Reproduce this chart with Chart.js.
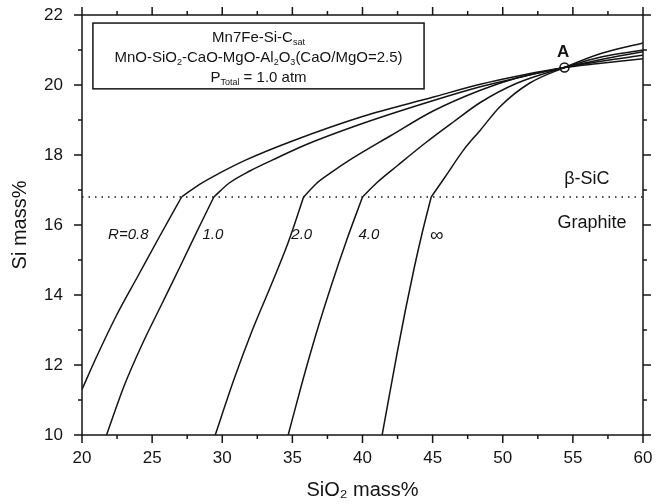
<!DOCTYPE html>
<html><head><meta charset="utf-8">
<script src="https://cdn.jsdelivr.net/npm/chart.js@4.4.1/dist/chart.umd.min.js"></script>
<style>html,body{margin:0;padding:0;background:#fff;}</style>
</head><body>
<canvas id="c" width="667" height="504"></canvas>
<script>
const FONT = "Arial, 'Liberation Sans', Helvetica, sans-serif";

// ---- data ----
const xTickValues = [20, 25, 30, 35, 40, 45, 50, 55, 60];
const yTickValues = [10, 12, 14, 16, 18, 20, 22];
const boundarySi = 16.8;            // beta-SiC / Graphite boundary
const pointA = { x: 54.4, y: 20.5 };

const r08X = [20, 21, 22.5, 24, 25.5, 27.1, 28.3, 29.8, 31.7, 35, 40, 45, 48.4, 51, 54.4, 57, 60];
const r08Y = [11.3, 12.2, 13.45, 14.55, 15.65, 16.8, 17.14, 17.48, 17.86, 18.4, 19.1, 19.65, 20.02, 20.25, 20.5, 20.62, 20.75];

const r10X = [21.75, 23.0, 24.3, 25.7, 27.1, 28.3, 29.4, 30.5, 32, 33.6, 36, 40, 45, 48.4, 51, 54.4, 57, 60];
const r10Y = [10, 11.4, 12.6, 13.75, 14.9, 15.9, 16.8, 17.2, 17.55, 17.86, 18.3, 18.9, 19.55, 19.95, 20.2, 20.5, 20.68, 20.85];

const r20X = [29.5, 30.8, 32.1, 33.45, 34.7, 35.8, 36.7, 37.7, 39.1, 42, 45, 48.4, 51, 54.4, 57, 60];
const r20Y = [10, 11.55, 12.95, 14.25, 15.5, 16.8, 17.18, 17.48, 17.86, 18.55, 19.25, 19.85, 20.2, 20.5, 20.73, 20.95];

const r40X = [34.7, 35.7, 36.7, 37.8, 38.9, 40.0, 41.0, 42.5, 44.5, 46.5, 48.4, 51, 54.4, 57, 60];
const r40Y = [10, 11.5, 12.9, 14.3, 15.6, 16.8, 17.2, 17.7, 18.35, 18.95, 19.5, 20.05, 20.5, 20.8, 21.0];

const rInfX = [41.4, 41.9, 42.45, 43.05, 43.7, 44.3, 44.9, 45.9, 47.2, 48.4, 49.8, 51.9, 54.4, 57, 60];
const rInfY = [10, 11.1, 12.3, 13.55, 14.8, 15.85, 16.8, 17.38, 18.14, 18.71, 19.38, 20.05, 20.5, 20.9, 21.2];

const curveNames = ['R=0.8', '1.0', '2.0', '4.0', '\u221E'];

// ---- label placement (data coordinates) ----
const curveLabelPos = [
  { x: 23.3, y: 15.71, italic: true, size: 15 },
  { x: 29.33, y: 15.71, italic: true, size: 15 },
  { x: 35.67, y: 15.71, italic: true, size: 15 },
  { x: 40.46, y: 15.71, italic: true, size: 15 },
  { x: 45.3, y: 15.69, italic: false, size: 19 }
];
const regionLabels = [
  { text: '\u03B2-SiC', x: 56.0, y: 17.32 },
  { text: 'Graphite', x: 56.36, y: 16.06 }
];
const boxPos = { x1: 20.78, x2: 44.39, y1: 21.77, y2: 19.89 };

// ---- build datasets ----
const INK = '#141414';
function splitCurve(xs, ys, name) {
  const k = ys.findIndex(v => v >= boundarySi);
  const pts = xs.map((x, i) => ({ x: x, y: ys[i] }));
  const base = { borderColor: INK, borderWidth: 1.5, pointRadius: 0, fill: false,
    cubicInterpolationMode: 'monotone', showLine: true };
  return [
    Object.assign({ label: name + ' (Graphite)', data: pts.slice(0, k + 1) }, base),
    Object.assign({ label: name + ' (SiC)', data: pts.slice(k) }, base)
  ];
}
const curves = [[r08X, r08Y], [r10X, r10Y], [r20X, r20Y], [r40X, r40Y], [rInfX, rInfY]];
let datasets = [];
curves.forEach((c, i) => { datasets = datasets.concat(splitCurve(c[0], c[1], curveNames[i])); });
datasets.push({
  label: 'boundary', data: [{ x: 20, y: boundarySi }, { x: 60, y: boundarySi }],
  borderColor: INK, borderWidth: 1.5, borderDash: [1.5, 5], pointRadius: 0, fill: false
});
datasets.push({
  label: 'A', data: [pointA], showLine: false, pointRadius: 4.5,
  pointBackgroundColor: '#fff', pointBorderColor: INK, pointBorderWidth: 1.5
});

// ---- plugin: frame, ticks, annotations ----
function drawRich(ctx, parts, cx, cy, size) {
  const subSize = Math.round(size * 0.62);
  let w = 0;
  parts.forEach(p => { ctx.font = (p.sub ? subSize : size) + 'px ' + FONT; w += ctx.measureText(p.t).width; });
  let x = cx - w / 2;
  ctx.textAlign = 'left'; ctx.textBaseline = 'middle';
  parts.forEach(p => {
    ctx.font = (p.sub ? subSize : size) + 'px ' + FONT;
    ctx.fillText(p.t, x, cy + (p.sub ? size * 0.3 : 0));
    x += ctx.measureText(p.t).width;
  });
}

const decor = {
  id: 'decor',
  afterDraw(chart) {
    const ctx = chart.ctx, xs = chart.scales.x, ys = chart.scales.y, a = chart.chartArea;
    ctx.save();
    ctx.strokeStyle = INK; ctx.fillStyle = INK; ctx.lineWidth = 1.5;
    ctx.strokeRect(a.left, a.top, a.right - a.left, a.bottom - a.top);
    ctx.beginPath();
    for (let v = xs.min; v <= xs.max + 1e-9; v += 2.5) {
      const p = xs.getPixelForValue(v); const len = (Math.abs(v % 5) < 1e-9) ? 8 : 4;
      ctx.moveTo(p, a.bottom); ctx.lineTo(p, a.bottom + len);
      ctx.moveTo(p, a.top); ctx.lineTo(p, a.top - len);
    }
    for (let v = ys.min; v <= ys.max + 1e-9; v += 1) {
      const p = ys.getPixelForValue(v); const len = (Math.abs(v % 2) < 1e-9) ? 8 : 4;
      ctx.moveTo(a.left, p); ctx.lineTo(a.left - len, p);
      ctx.moveTo(a.right, p); ctx.lineTo(a.right + len, p);
    }
    ctx.stroke();

    // condition box
    const bx1 = xs.getPixelForValue(boxPos.x1), bx2 = xs.getPixelForValue(boxPos.x2);
    const by1 = ys.getPixelForValue(boxPos.y1), by2 = ys.getPixelForValue(boxPos.y2);
    ctx.fillStyle = '#fff';
    ctx.fillRect(bx1, by1, bx2 - bx1, by2 - by1);
    ctx.strokeRect(bx1, by1, bx2 - bx1, by2 - by1);
    ctx.fillStyle = INK;
    const cx = (bx1 + bx2) / 2;
    drawRich(ctx, [{ t: 'Mn7Fe-Si-C' }, { t: 'sat', sub: true }], cx, by1 + 15, 15);
    drawRich(ctx, [{ t: 'MnO-SiO' }, { t: '2', sub: true }, { t: '-CaO-MgO-Al' }, { t: '2', sub: true },
      { t: 'O' }, { t: '3', sub: true }, { t: '(CaO/MgO=2.5)' }], cx, by1 + 35, 15);
    drawRich(ctx, [{ t: 'P' }, { t: 'Total', sub: true }, { t: ' = 1.0 atm' }], cx, by1 + 55, 15);

    // curve labels
    ctx.textAlign = 'center'; ctx.textBaseline = 'middle';
    curveLabelPos.forEach((l, i) => {
      ctx.font = (l.italic ? 'italic ' : '') + l.size + 'px ' + FONT;
      ctx.fillText(curveNames[i], xs.getPixelForValue(l.x), ys.getPixelForValue(l.y));
    });
    ctx.font = '18px ' + FONT;
    regionLabels.forEach(l => ctx.fillText(l.text, xs.getPixelForValue(l.x), ys.getPixelForValue(l.y)));
    ctx.font = 'bold 17px ' + FONT;
    ctx.fillText('A', xs.getPixelForValue(pointA.x - 0.1), ys.getPixelForValue(pointA.y + 0.42));
    ctx.restore();
  }
};

new Chart(document.getElementById('c'), {
  type: 'line',
  data: { datasets: datasets },
  plugins: [decor],
  options: {
    responsive: false, animation: false, devicePixelRatio: 1,
    layout: { padding: { top: 15, right: 24, left: 0, bottom: 0 } },
    plugins: { legend: { display: false }, tooltip: { enabled: false } },
    scales: {
      x: {
        type: 'linear', min: 20, max: 60,
        afterFit: s => { s.height = 69; },
        afterBuildTicks: s => { s.ticks = xTickValues.map(v => ({ value: v })); },
        grid: { display: false, drawTicks: true, tickLength: 13, tickColor: 'rgba(0,0,0,0)' },
        border: { display: false },
        ticks: { color: INK, font: { family: FONT, size: 17 }, padding: 0, maxRotation: 0 },
        title: { display: true, text: 'SiO\u2082 mass%', color: INK, font: { family: FONT, size: 20 }, padding: { top: 0, bottom: 2 } }
      },
      y: {
        type: 'linear', min: 10, max: 22,
        afterFit: s => { s.width = 82; },
        afterBuildTicks: s => { s.ticks = yTickValues.map(v => ({ value: v })); },
        grid: { display: false, drawTicks: true, tickLength: 19, tickColor: 'rgba(0,0,0,0)' },
        border: { display: false },
        ticks: { color: INK, font: { family: FONT, size: 17 }, padding: 0 },
        title: { display: true, text: 'Si mass%', color: INK, font: { family: FONT, size: 20 }, padding: { top: 8, bottom: 0 } }
      }
    }
  }
});
</script>
</body></html>
